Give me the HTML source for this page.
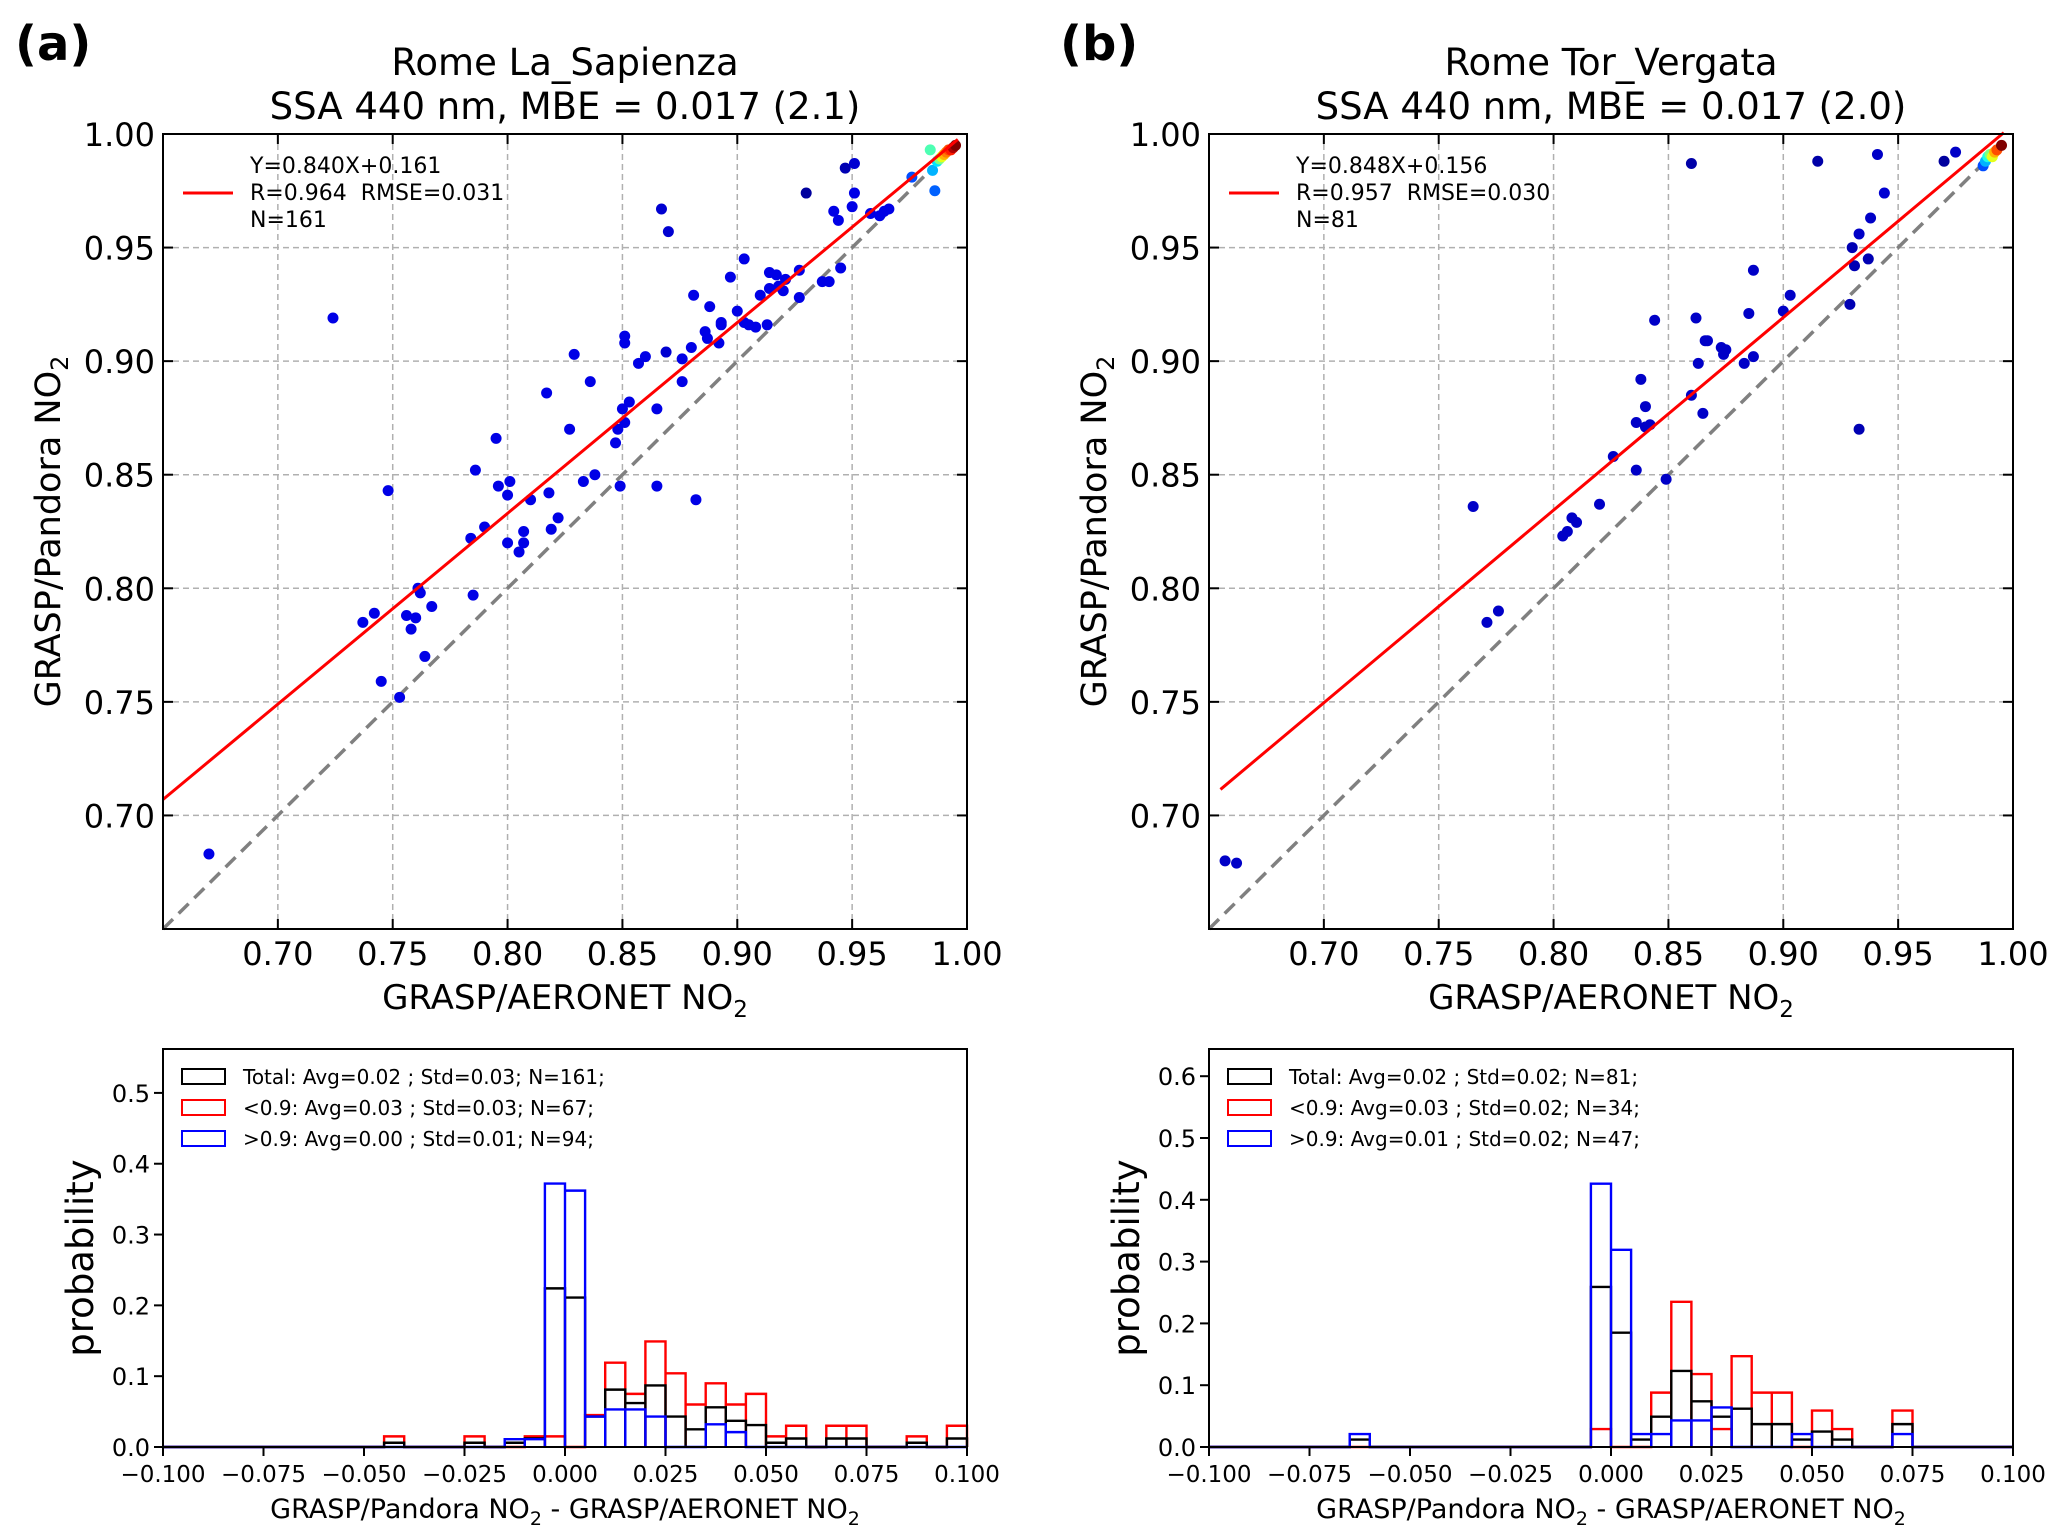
<!DOCTYPE html>
<html><head><meta charset="utf-8">
<style>
html,body{margin:0;padding:0;background:#fff;}
svg{display:block;font-family:"DejaVu Sans","Liberation Sans",sans-serif;}
</style></head>
<body>
<svg id="fig" width="2067" height="1539" viewBox="0 0 2067 1539" xmlns="http://www.w3.org/2000/svg">
<rect width="2067" height="1539" fill="#fff"/>
</svg>
<script>
// ---------- data ----------
const scatterAX=[0.670,0.724,0.737,0.742,0.745,0.748,0.753,0.756,0.758,0.760,0.761,0.762,0.764,0.767,0.784,0.785,0.786,0.790,0.795,0.796,0.800,0.800,0.801,0.805,0.807,0.807,0.810,0.817,0.818,0.819,0.822,0.827,0.829,0.833,0.836,0.838,0.847,0.848,0.849,0.850,0.851,0.851,0.851,0.853,0.857,0.860,0.865,0.865,0.867,0.869,0.870,0.876,0.876,0.880,0.881,0.882,0.888,0.886,0.887,0.892,0.893,0.893,0.897,0.900,0.903,0.903,0.905,0.908,0.910,0.913,0.914,0.914,0.917,0.918,0.920,0.921,0.927,0.927,0.930,0.937,0.940,0.942,0.944,0.945,0.947,0.950,0.951,0.951,0.958,0.962,0.964,0.966,0.976,0.984,0.985,0.986,0.987,0.988,0.989,0.990,0.991,0.992,0.993,0.994,0.995];
const scatterAY=[0.683,0.919,0.785,0.789,0.759,0.843,0.752,0.788,0.782,0.787,0.800,0.798,0.770,0.792,0.822,0.797,0.852,0.827,0.866,0.845,0.841,0.820,0.847,0.816,0.825,0.820,0.839,0.886,0.842,0.826,0.831,0.870,0.903,0.847,0.891,0.850,0.864,0.870,0.845,0.879,0.873,0.908,0.911,0.882,0.899,0.902,0.879,0.845,0.967,0.904,0.957,0.891,0.901,0.906,0.929,0.839,0.924,0.913,0.910,0.908,0.917,0.916,0.937,0.922,0.945,0.917,0.916,0.915,0.929,0.916,0.932,0.939,0.938,0.933,0.931,0.936,0.928,0.940,0.974,0.935,0.935,0.966,0.962,0.941,0.985,0.968,0.987,0.974,0.965,0.964,0.966,0.967,0.981,0.993,0.984,0.975,0.988,0.989,0.990,0.991,0.992,0.993,0.993,0.994,0.995];
const scatterADens=[0.1,0.1,0.1,0.1,0.1,0.1,0.1,0.1,0.1,0.1,0.1,0.1,0.1,0.1,0.1,0.1,0.1,0.1,0.1,0.1,0.1,0.1,0.1,0.1,0.1,0.1,0.1,0.1,0.1,0.1,0.1,0.1,0.1,0.1,0.1,0.1,0.1,0.1,0.1,0.1,0.1,0.1,0.1,0.1,0.1,0.1,0.1,0.1,0.08,0.08,0.08,0.1,0.1,0.1,0.1,0.1,0.1,0.1,0.1,0.1,0.1,0.1,0.1,0.1,0.1,0.1,0.1,0.1,0.1,0.1,0.1,0.1,0.1,0.1,0.1,0.1,0.1,0.1,0.03,0.1,0.1,0.1,0.1,0.1,0.05,0.1,0.08,0.1,0.1,0.1,0.1,0.1,0.2,0.45,0.3,0.22,0.35,0.5,0.6,0.7,0.75,0.8,0.85,0.95,1.0];
const scatterBX=[0.657,0.662,0.765,0.771,0.776,0.804,0.806,0.808,0.810,0.820,0.826,0.836,0.836,0.838,0.840,0.840,0.842,0.844,0.849,0.860,0.860,0.862,0.863,0.865,0.866,0.867,0.873,0.874,0.875,0.883,0.885,0.887,0.887,0.900,0.903,0.915,0.929,0.930,0.931,0.933,0.933,0.937,0.938,0.941,0.944,0.970,0.975,0.987,0.988,0.989,0.990,0.991,0.992,0.993,0.995];
const scatterBY=[0.680,0.679,0.836,0.785,0.790,0.823,0.825,0.831,0.829,0.837,0.858,0.852,0.873,0.892,0.880,0.871,0.872,0.918,0.848,0.885,0.987,0.919,0.899,0.877,0.909,0.909,0.906,0.903,0.905,0.899,0.921,0.902,0.940,0.922,0.929,0.988,0.925,0.950,0.942,0.956,0.870,0.945,0.963,0.991,0.974,0.988,0.992,0.986,0.988,0.990,0.991,0.990,0.992,0.993,0.995];
const scatterBDens=[0.07,0.07,0.07,0.07,0.07,0.07,0.07,0.07,0.07,0.07,0.07,0.07,0.07,0.07,0.07,0.07,0.07,0.07,0.07,0.07,0.04,0.07,0.07,0.07,0.07,0.07,0.07,0.07,0.07,0.07,0.07,0.07,0.07,0.07,0.07,0.04,0.05,0.05,0.05,0.07,0.05,0.05,0.07,0.07,0.08,0.03,0.07,0.2,0.3,0.4,0.5,0.6,0.7,0.8,1.0];
const fitA=[0.840,0.161], fitB=[0.848,0.156];
const scatTicks=[0.70,0.75,0.80,0.85,0.90,0.95,1.00];
const scatTickLabels=["0.70","0.75","0.80","0.85","0.90","0.95","1.00"];
const binStartsA=[-0.045,-0.025,-0.015,-0.010,-0.005,0.000,0.005,0.010,0.015,0.020,0.025,0.030,0.035,0.040,0.045,0.050,0.055,0.065,0.070,0.085,0.095];
const histTotalA=[0.006,0.006,0.006,0.012,0.224,0.211,0.043,0.081,0.062,0.087,0.043,0.025,0.056,0.037,0.031,0.006,0.012,0.012,0.012,0.006,0.012];
const histLowA  =[0.015,0.015,0.000,0.015,0.015,0.000,0.045,0.119,0.075,0.149,0.104,0.060,0.090,0.060,0.075,0.015,0.030,0.030,0.030,0.015,0.030];
const histHighA =[0.000,0.000,0.011,0.011,0.372,0.362,0.043,0.053,0.053,0.043,0.000,0.000,0.032,0.021,0.000,0.000,0.000,0.000,0.000,0.000,0.000];
const binStartsB=[-0.065,-0.005,0.000,0.005,0.010,0.015,0.020,0.025,0.030,0.035,0.040,0.045,0.050,0.055,0.070];
const histTotalB=[0.012,0.259,0.185,0.012,0.049,0.123,0.074,0.049,0.062,0.037,0.037,0.012,0.025,0.012,0.037];
const histLowB  =[0.000,0.029,0.000,0.000,0.088,0.235,0.118,0.029,0.147,0.088,0.088,0.000,0.059,0.029,0.059];
const histHighB =[0.021,0.426,0.319,0.021,0.021,0.043,0.043,0.064,0.000,0.000,0.000,0.021,0.000,0.000,0.021];
const histXTicks=[-0.100,-0.075,-0.050,-0.025,0.000,0.025,0.050,0.075,0.100];
const histXTickLabels=["\u22120.100","\u22120.075","\u22120.050","\u22120.025","0.000","0.025","0.050","0.075","0.100"];
const histYTicksA=[0,0.1,0.2,0.3,0.4,0.5];
const histYTicksB=[0,0.1,0.2,0.3,0.4,0.5,0.6];

// ---------- helpers ----------
const NS="http://www.w3.org/2000/svg";
const svg=document.getElementById('fig');
function mk(tag,attrs,parent,text){const e=document.createElementNS(NS,tag);for(const k in attrs)e.setAttribute(k,attrs[k]);if(text!==undefined)e.textContent=text;(parent||svg).appendChild(e);return e;}
function jet(v){const r=Math.max(0,Math.min(1,1.5-Math.abs(4*v-3))),g=Math.max(0,Math.min(1,1.5-Math.abs(4*v-2))),b=Math.max(0,Math.min(1,1.5-Math.abs(4*v-1)));return `rgb(${Math.round(r*255)},${Math.round(g*255)},${Math.round(b*255)})`;}

function scatterPanel(o){
  const g=mk('g',{});
  
  
  const L=o.L,R=o.R,T=134,B=929,lo=0.65,hi=1.0;
  const sx=v=>L+(v-lo)/(hi-lo)*(R-L), sy=v=>B-(v-lo)/(hi-lo)*(B-T);
  const cx=(L+R)/2;
  let t=mk('text',{x:o.labX,y:60,'font-size':48,'font-weight':'bold'},g,o.letter);
  
  t=mk('text',{x:cx,y:75,'font-size':37,'text-anchor':'middle'},g,o.title1);
  
  t=mk('text',{x:cx,y:119,'font-size':37,'text-anchor':'middle'},g,o.title2);
  
  scatTicks.forEach((v,i)=>{
    if(v<hi){const gl=mk('line',{x1:sx(v),x2:sx(v),y1:T,y2:B,stroke:'#b0b0b0','stroke-width':1.5,'stroke-dasharray':'6,4'},g);
      
      const gh=mk('line',{x1:L,x2:R,y1:sy(v),y2:sy(v),stroke:'#b0b0b0','stroke-width':1.5,'stroke-dasharray':'6,4'},g);
      }
  });
  let l=mk('line',{x1:sx(lo),y1:sy(lo),x2:sx(0.995),y2:sy(0.995),stroke:'#808080','stroke-width':3.5,'stroke-dasharray':'14,8'},g);
  
  o.xs.forEach((x,i)=>{
    const c=mk('circle',{cx:sx(x),cy:sy(o.ys[i]),r:5.5,fill:jet(o.dens[i])},g);
    
  });
  const x0=o.fitStart,x1=0.996;
  l=mk('line',{x1:sx(x0),y1:sy(o.fit[0]*x0+o.fit[1]),x2:sx(x1),y2:sy(o.fit[0]*x1+o.fit[1]),stroke:'#ff0000','stroke-width':3},g);
  
  let f=mk('rect',{x:L,y:T,width:R-L,height:B-T,fill:'none',stroke:'#000','stroke-width':2},g);
  
  scatTicks.forEach((v,i)=>{
    const X=sx(v),Y=sy(v);
    [[X,B,X,B-10],[X,T,X,T+10],[L,Y,L+10,Y],[R,Y,R-10,Y]].forEach(p=>{
      const tk=mk('line',{x1:p[0],y1:p[1],x2:p[2],y2:p[3],stroke:'#000','stroke-width':2},g);
      });
    let tl=mk('text',{x:X,y:B+36,'font-size':32,'text-anchor':'middle'},g,scatTickLabels[i]);
    
    tl=mk('text',{x:L-8,y:Y+12,'font-size':32,'text-anchor':'end'},g,scatTickLabels[i]);
    
  });
  t=mk('text',{x:cx,y:1009,'font-size':34,'text-anchor':'middle'},g);
  
  t.innerHTML='GRASP/AERONET NO<tspan font-size="23" dy="8">2</tspan>';
  t=mk('text',{x:0,y:0,'font-size':35,'text-anchor':'middle',transform:`translate(${L-103},${(T+B)/2}) rotate(-90)`},g);
  
  t.innerHTML='GRASP/Pandora NO<tspan font-size="24" dy="8">2</tspan>';
  const lg=mk('g',{},g);
  l=mk('line',{x1:L+20,x2:L+70,y1:193,y2:193,stroke:'#ff0000','stroke-width':3},lg);
  
  o.legend.forEach((s,i)=>{const lt=mk('text',{x:L+87,y:173+i*27,'font-size':22,style:'white-space:pre'},lg,s);
    });
}

function histPanel(o){
  const g=mk('g',{});
  
  
  const L=o.L,R=o.R,T=1049,B=1447,xlo=-0.1,xhi=0.1;
  const sx=v=>L+(v-xlo)/(xhi-xlo)*(R-L), sy=v=>B-v/o.ymax*(B-T);
  const cx=(L+R)/2;
  function stepPath(starts,vals){
    let d=`M${sx(xlo)},${sy(0)}`;
    starts.forEach((s,i)=>{
      d+=` L${sx(s)},${sy(0)} L${sx(s)},${sy(vals[i])} L${sx(s+0.005)},${sy(vals[i])} L${sx(s+0.005)},${sy(0)}`;
    });
    d+=` L${sx(xhi)},${sy(0)}`;
    return d;
  }
  [[o.low,'#ff0000','hist-low'],[o.total,'#000000','hist-total'],[o.high,'#0000ff','hist-high']].forEach(s=>{
    const p=mk('path',{d:stepPath(o.starts,s[0]),fill:'none',stroke:s[1],'stroke-width':2.4},g);
    
  });
  let f=mk('rect',{x:L,y:T,width:R-L,height:B-T,fill:'none',stroke:'#000','stroke-width':2},g);
  
  histXTicks.forEach((v,i)=>{
    const tk=mk('line',{x1:sx(v),x2:sx(v),y1:B,y2:B+9,stroke:'#000','stroke-width':2},g);
    
    const tl=mk('text',{x:sx(v),y:B+35,'font-size':23,'text-anchor':'middle'},g,histXTickLabels[i]);
    
  });
  o.yticks.forEach(v=>{
    const tk=mk('line',{x1:L,x2:L-9,y1:sy(v),y2:sy(v),stroke:'#000','stroke-width':2},g);
    
    const tl=mk('text',{x:L-13,y:sy(v)+9,'font-size':24,'text-anchor':'end'},g,v.toFixed(1));
    
  });
  let t=mk('text',{x:cx,y:1518,'font-size':27,'text-anchor':'middle'},g);
  
  t.innerHTML='GRASP/Pandora NO<tspan font-size="19" dy="7">2</tspan><tspan dy="-7"> - GRASP/AERONET NO</tspan><tspan font-size="19" dy="7">2</tspan>';
  t=mk('text',{x:0,y:0,'font-size':37,'text-anchor':'middle',transform:`translate(${L-70},${(T+B)/2+10}) rotate(-90)`},g,'probability');
  
  const lg=mk('g',{},g);
  ['#000000','#ff0000','#0000ff'].forEach((c,i)=>{
    const y=1077+i*31;
    const r=mk('rect',{x:L+19,y:y-8,width:43,height:15,fill:'none',stroke:c,'stroke-width':2},lg);
    
    const lt=mk('text',{x:L+80,y:y+7,'font-size':20,style:'white-space:pre'},lg,o.legend[i]);
    
  });
}

scatterPanel({name:'scatter-panel-a',L:163,R:967,labX:15,letter:'(a)',title1:'Rome La_Sapienza',title2:'SSA 440 nm, MBE = 0.017 (2.1)',
  xs:scatterAX,ys:scatterAY,dens:scatterADens,fit:fitA,fitStart:0.65,
  legend:['Y=0.840X+0.161','R=0.964  RMSE=0.031','N=161']});
scatterPanel({name:'scatter-panel-b',L:1209,R:2013,labX:1060,letter:'(b)',title1:'Rome Tor_Vergata',title2:'SSA 440 nm, MBE = 0.017 (2.0)',
  xs:scatterBX,ys:scatterBY,dens:scatterBDens,fit:fitB,fitStart:0.655,
  legend:['Y=0.848X+0.156','R=0.957  RMSE=0.030','N=81']});
histPanel({name:'histogram-panel-a',L:163,R:967,ymax:0.562,yticks:histYTicksA,starts:binStartsA,total:histTotalA,low:histLowA,high:histHighA,
  legend:['Total: Avg=0.02 ; Std=0.03; N=161;','<0.9: Avg=0.03 ; Std=0.03; N=67;','>0.9: Avg=0.00 ; Std=0.01; N=94;']});
histPanel({name:'histogram-panel-b',L:1209,R:2013,ymax:0.644,yticks:histYTicksB,starts:binStartsB,total:histTotalB,low:histLowB,high:histHighB,
  legend:['Total: Avg=0.02 ; Std=0.02; N=81;','<0.9: Avg=0.03 ; Std=0.02; N=34;','>0.9: Avg=0.01 ; Std=0.02; N=47;']});
</script>
</body></html>
